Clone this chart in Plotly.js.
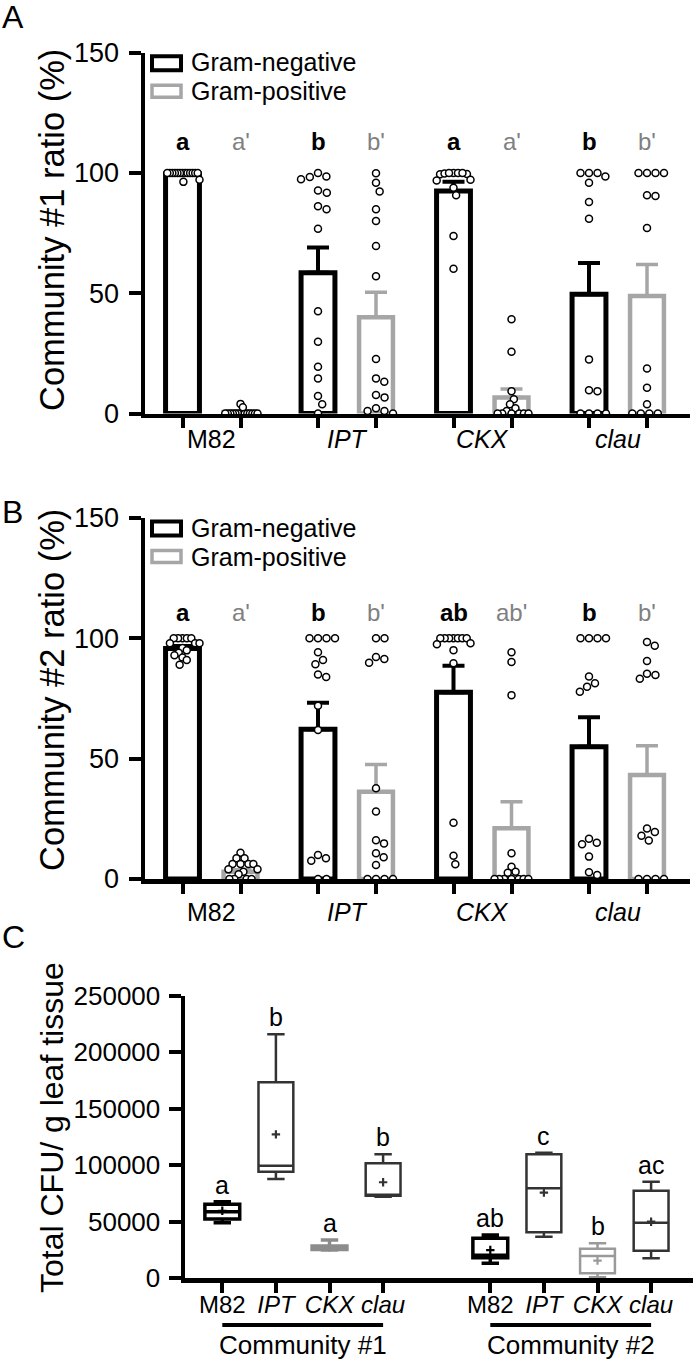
<!DOCTYPE html>
<html><head><meta charset="utf-8">
<script src="https://cdn.plot.ly/plotly-3.0.1.min.js"></script>
<style>html,body{margin:0;padding:0;background:#fff}</style>
</head><body><div id="chart" style="width:693px;height:1363px"></div>
<script>
// ---------------- DATA ----------------
const genotypes = ['M82', 'IPT', 'CKX', 'clau'];
const italicGenotype = [false, true, true, true];
const seriesNames = ['Gram-negative', 'Gram-positive'];

// Panel A: Community #1 ratio (%)
const c1NegMean = [99.6, 58.5, 92.5, 49.6];
const c1NegSem  = [0.3, 10.5, 3.8, 13.0];
const c1PosMean = [0.6, 40.0, 6.6, 48.8];
const c1PosSem  = [0.3, 10.4, 3.6, 13.1];
const c1NegPts = [
  [100,100,100,100,100,100,100,100,100,100,100,100,100,97.2,96.3],
  [100,98.5,97.4,98.3,91.8,92.7,84.9,86.2,76.8,42.5,29.8,19.4,14.6,7.3,3.8,0],
  [100,99.5,100,99.8,100,99.6,100,97.2,96.9,93.9,90.7,73.8,60.2],
  [100,98.5,100,100,95.9,87.9,81.0,22.5,9.3,9.7,0,0,0,0]
];
const c1PosPts = [
  [0,0,0,0,0,0,0,0,0,0,0,0,0,4.0,2.6],
  [99.9,95.9,92.3,84.9,80.0,69.6,57.1,22.7,13.2,14.6,6.7,7.7,2.2,1.0,1.0,0],
  [39.2,25.7,9.3,5.9,3.8,2.2,1.0,0,0,0,0,0,0],
  [100,100,100,100,90.4,90.7,77.1,18.7,10.7,3.8,0,0,0,0]
];
const c1NegLetters = ['a', 'b', 'a', 'b'];
const c1PosLetters = ["a'", "b'", "a'", "b'"];

// Panel B: Community #2 ratio (%)
const c2NegMean = [95.8, 62.2, 77.6, 55.0];
const c2NegSem  = [1.0, 11.0, 11.0, 12.2];
const c2PosMean = [3.0, 36.3, 21.1, 43.2];
const c2PosSem  = [0.8, 11.3, 11.0, 12.2];
const c2NegPts = [
  [100,100,100,100,100,98,98,98,96,95,94,93,92,91,89],
  [100,100,100,100,94.2,89.2,91.0,85.0,83.9,72.0,61.9,10.0,7.6,8.6,0,0],
  [100,100,100,100,100,100,100,98,97.5,95.1,89.6,23.4,9.7,6.1],
  [100,100,100,100,84.1,81.3,79.9,77.8,15.1,14.4,16.7,9.3,1.7,2.8]
];
const c2PosPts = [
  [10.9,8.6,8.6,6.2,6.2,6.2,6.2,4.0,4.0,3.0,2.0,0,0,0,0],
  [100,100,91.4,89.9,92.2,37.7,28.0,14.8,16.1,10.7,9.0,5.8,0,0,0,0],
  [94.2,90.2,76.4,10.7,5.1,3.0,2.6,0,0,0,0,0,0,0],
  [96.9,98.5,90.6,84.8,83.2,85.3,21.0,19.5,18.0,16.0,0,0,0,0]
];
const c2NegLetters = ['a', 'b', 'ab', 'b'];
const c2PosLetters = ["a'", "b'", "ab'", "b'"];

// Panel C: Total CFU / g leaf tissue (box plots)
const cfuGenotype  = ['M82','IPT','CKX','clau','M82','IPT','CKX','clau'];
const cfuCommunity = ['Community #1','Community #1','Community #1','Community #1','Community #2','Community #2','Community #2','Community #2'];
const cfuMin    = [49200, 87900, 25000, 72200, 13300, 36800, 900, 17700];
const cfuQ1     = [52500, 94300, 25500, 73100, 18200, 40700, 4400, 24400];
const cfuMedian = [58900, 99700, 27000, 73500, 20500, 79700, 19700, 49200];
const cfuQ3     = [65500, 173500, 28500, 101800, 35400, 109700, 26200, 77500];
const cfuMax    = [67800, 215900, 33900, 109700, 38300, 111200, 31000, 85500];
const cfuMean   = [59800, 127400, 27500, 85000, 25000, 75800, 15600, 50100];
const cfuLetters = ['a','b','a','b','ab','c','b','ac'];

// ---------------- STYLE / LAYOUT ----------------
const W = 693, H = 1363;
const FONT = 'Liberation Sans, Arial, Helvetica, sans-serif';
const BLACK = '#000000', GRAY = '#a6a6a6', LETTERGRAY = '#808080';
const boxColors = ['#000000','#333333','#8c8c8c','#333333','#000000','#333333','#9a9a9a','#333333'];
const boxWidths = [3.5, 2.5, 3.5, 2.5, 3.5, 2.5, 2.5, 2.5];
const px = p => p / W;
const py = p => 1 - p / H;

const PAIR_OFF = 0.214;         // offset of each bar from group centre (group units)
const GROUP_PX = 135.5;         // px per group unit in A/B
const A = {top: 52.7, bottom: 413.5, labelY: 439, letterVal: 113, legendTop: 52.7, titleY: 230};
const B = {top: 518, bottom: 879, labelY: 912, letterVal: 110.7, legendTop: 518, titleY: 690};
const C = {left: 185, right: 693, top: 995.8, bottom: 1278.3};
const C_POS = [0, 1, 2, 3, 5, 6, 7, 8];

function fmtGeno(g, i) { return italicGenotype[i] ? '<i>' + g + '</i>' : g; }

function swarm(vals, pxPerUnit, d, maxW) {
  const idx = vals.map((v, i) => i).sort((a, b) => vals[b] - vals[a]);
  const placed = []; const off = new Array(vals.length).fill(0);
  for (const i of idx) {
    const y = vals[i] * pxPerUnit;
    const near = placed.filter(p => Math.abs(p.y - y) < d);
    const cands = [0];
    near.forEach(p => { const dx = Math.sqrt(d * d - (p.y - y) ** 2); cands.push(p.x + dx, p.x - dx); });
    cands.sort((a, b) => Math.abs(a) - Math.abs(b));
    let x = 0;
    for (const c of cands) {
      if (near.every(p => (p.x - c) ** 2 + (p.y - y) ** 2 >= d * d - 0.01)) { x = c; break; }
    }
    placed.push({x, y}); off[i] = x;
  }
  const m = Math.max(...off.map(Math.abs));
  if (m > maxW) { const s = maxW / m; for (let k = 0; k < off.length; k++) off[k] *= s; }
  return off;
}

const traces = [];
const annotations = [];
const shapes = [];

function barPanel(ax, geom, negMean, negSem, posMean, posSem, negPts, posPts, negLet, posLet) {
  const xa = 'x' + (ax === 1 ? '' : ax), ya = 'y' + (ax === 1 ? '' : ax);
  const xNeg = genotypes.map((g, i) => i - PAIR_OFF);
  const xPos = genotypes.map((g, i) => i + PAIR_OFF);
  const pxPerUnit = (geom.bottom - geom.top) / 150;
  traces.push({type: 'bar', x: xNeg, y: negMean, width: 0.25, xaxis: xa, yaxis: ya,
    name: seriesNames[0], showlegend: false, hoverinfo: 'skip',
    marker: {color: '#ffffff', line: {color: BLACK, width: 5}},
    error_y: {type: 'data', symmetric: false, array: negSem, arrayminus: negSem.map(() => 0),
      color: BLACK, thickness: 4, width: 11}});
  traces.push({type: 'bar', x: xPos, y: posMean, width: 0.25, xaxis: xa, yaxis: ya,
    name: seriesNames[1], showlegend: false, hoverinfo: 'skip',
    marker: {color: '#ffffff', line: {color: GRAY, width: 4.5}},
    error_y: {type: 'data', symmetric: false, array: posSem, arrayminus: posSem.map(() => 0),
      color: GRAY, thickness: 3.5, width: 11}});
  const sx = [], sy = [];
  [negPts, posPts].forEach((set, s) => {
    set.forEach((vals, i) => {
      const off = swarm(vals, pxPerUnit, 9.5, 17);
      vals.forEach((v, k) => { sx.push(i + (s === 0 ? -PAIR_OFF : PAIR_OFF) + off[k] / GROUP_PX); sy.push(v); });
    });
  });
  traces.push({type: 'scatter', mode: 'markers', x: sx, y: sy, xaxis: xa, yaxis: ya,
    showlegend: false, hoverinfo: 'skip', cliponaxis: false,
    marker: {size: 7, color: '#ffffff', line: {color: BLACK, width: 1.5}}});
  genotypes.forEach((g, i) => {
    annotations.push({x: i, xref: xa, y: py(geom.labelY), yref: 'paper', text: fmtGeno(g, i),
      showarrow: false, font: {size: 25, color: BLACK}, xanchor: 'center', yanchor: 'middle'});
    annotations.push({x: i - PAIR_OFF, xref: xa, y: geom.letterVal, yref: ya, text: '<b>' + negLet[i] + '</b>',
      showarrow: false, font: {size: 24, color: BLACK}, xanchor: 'center', yanchor: 'middle'});
    annotations.push({x: i + PAIR_OFF, xref: xa, y: geom.letterVal, yref: ya, text: posLet[i],
      showarrow: false, font: {size: 24, color: LETTERGRAY}, xanchor: 'center', yanchor: 'middle'});
  });
  // legend
  const T = geom.legendTop;
  shapes.push({type: 'rect', xref: 'paper', yref: 'paper', x0: px(152), x1: px(181), y0: py(T + 3.5), y1: py(T + 17.5),
    line: {color: BLACK, width: 4}, fillcolor: '#ffffff'});
  shapes.push({type: 'rect', xref: 'paper', yref: 'paper', x0: px(152), x1: px(181), y0: py(T + 32.5), y1: py(T + 44.5),
    line: {color: GRAY, width: 3.5}, fillcolor: '#ffffff'});
  annotations.push({x: px(189), y: py(T + 9.8), xref: 'paper', yref: 'paper', text: seriesNames[0], showarrow: false,
    xanchor: 'left', yanchor: 'middle', font: {size: 25, color: BLACK}});
  annotations.push({x: px(189), y: py(T + 38.5), xref: 'paper', yref: 'paper', text: seriesNames[1], showarrow: false,
    xanchor: 'left', yanchor: 'middle', font: {size: 25, color: BLACK}});
}

barPanel(1, A, c1NegMean, c1NegSem, c1PosMean, c1PosSem, c1NegPts, c1PosPts, c1NegLetters, c1PosLetters);
barPanel(2, B, c2NegMean, c2NegSem, c2PosMean, c2PosSem, c2NegPts, c2PosPts, c2NegLetters, c2PosLetters);

// Panel C boxes
cfuGenotype.forEach((g, i) => {
  traces.push({type: 'box', x: [C_POS[i]], q1: [cfuQ1[i]], median: [cfuMedian[i]], q3: [cfuQ3[i]],
    lowerfence: [cfuMin[i]], upperfence: [cfuMax[i]], xaxis: 'x3', yaxis: 'y3',
    name: g + ' ' + cfuCommunity[i], showlegend: false, hoverinfo: 'skip', boxpoints: false,
    width: 0.65, whiskerwidth: 0.5, fillcolor: '#ffffff',
    line: {color: boxColors[i], width: boxWidths[i]}});
  annotations.push({x: C_POS[i], xref: 'x3', y: cfuMax[i], yref: 'y3', yshift: 17, text: cfuLetters[i],
    showarrow: false, font: {size: 25, color: BLACK}, xanchor: 'center', yanchor: 'middle'});
});
traces.push({type: 'scatter', mode: 'markers', x: C_POS, y: cfuMean, xaxis: 'x3', yaxis: 'y3',
  showlegend: false, hoverinfo: 'skip', cliponaxis: false,
  marker: {symbol: 'cross-thin', size: 6, color: boxColors, line: {color: boxColors, width: 2.2}}});

['Community #1', 'Community #2'].forEach((c, k) => {
  const xs = C_POS.filter((p, i) => cfuCommunity[i] === c);
  shapes.push({type: 'line', xref: 'x3', yref: 'paper', x0: Math.min(...xs), x1: Math.max(...xs),
    y0: py(1325), y1: py(1325), line: {color: BLACK, width: 4}});
  annotations.push({x: (Math.min(...xs) + Math.max(...xs)) / 2, xref: 'x3', y: py(1345), yref: 'paper',
    text: c, showarrow: false, font: {size: 26, color: BLACK}, xanchor: 'center', yanchor: 'middle'});
});

// panel letters & y titles
[['A', 17], ['B', 512], ['C', 937]].forEach(([t, y]) => annotations.push({x: px(0), y: py(y), xref: 'paper', yref: 'paper',
  text: t, showarrow: false, xanchor: 'left', yanchor: 'middle', font: {size: 32, color: BLACK}}));
[['Community #1 ratio (%)', A.titleY, 34.5], ['Community #2 ratio (%)', B.titleY, 34.5], ['Total CFU/ g leaf tissue', 1128, 32]].forEach(([t, y, s]) =>
  annotations.push({x: px(52), y: py(y), xref: 'paper', yref: 'paper', text: t, textangle: -90, showarrow: false,
    xanchor: 'center', yanchor: 'middle', font: {size: s, color: BLACK}}));

const barTickVals = [];
genotypes.forEach((g, i) => { barTickVals.push(i - PAIR_OFF, i + PAIR_OFF); });

function xBarAxis(geom, anchor) {
  return {domain: [px(145), px(690)], range: [(145 - 211.5) / GROUP_PX, (690 - 211.5) / GROUP_PX], anchor: anchor,
    showgrid: false, zeroline: false, showline: true, linecolor: BLACK, linewidth: 4.5,
    ticks: 'outside', ticklen: 10, tickwidth: 4, tickcolor: BLACK,
    tickvals: barTickVals, ticktext: barTickVals.map(() => ''), fixedrange: true};
}
function yBarAxis(geom, anchor) {
  return {domain: [py(geom.bottom), py(geom.top)], range: [0, 150], anchor: anchor,
    showgrid: false, zeroline: false, showline: true, linecolor: BLACK, linewidth: 4.5,
    ticks: 'outside', ticklen: 12, tickwidth: 4, tickcolor: BLACK, ticklabelstandoff: 4,
    tickvals: [0, 50, 100, 150], tickfont: {size: 27, color: BLACK}, fixedrange: true};
}

const layout = {
  width: W, height: H, margin: {l: 0, r: 0, t: 0, b: 0},
  paper_bgcolor: '#ffffff', plot_bgcolor: 'rgba(0,0,0,0)',
  font: {family: FONT, color: BLACK},
  showlegend: false, barmode: 'overlay', boxmode: 'overlay',
  xaxis: xBarAxis(A, 'y'), yaxis: yBarAxis(A, 'x'),
  xaxis2: xBarAxis(B, 'y2'), yaxis2: yBarAxis(B, 'x2'),
  xaxis3: {domain: [px(C.left), px(C.right)], range: [(C.left - 222.3) / 53.6, (C.right - 222.3) / 53.6], anchor: 'y3',
    showgrid: false, zeroline: false, showline: true, linecolor: BLACK, linewidth: 4.5,
    ticks: 'outside', ticklen: 10, tickwidth: 4, tickcolor: BLACK, ticklabelstandoff: -9,
    tickvals: C_POS, ticktext: cfuGenotype.map(g => fmtGeno(g, genotypes.indexOf(g))),
    tickfont: {size: 24, color: BLACK}, fixedrange: true},
  yaxis3: {domain: [py(C.bottom), py(C.top)], range: [0, 250000], anchor: 'x3',
    showgrid: false, zeroline: false, showline: true, linecolor: BLACK, linewidth: 4.5,
    ticks: 'outside', ticklen: 12, tickwidth: 4, tickcolor: BLACK, ticklabelstandoff: 3,
    tickvals: [0, 50000, 100000, 150000, 200000, 250000], tickformat: 'd',
    tickfont: {size: 26, color: BLACK}, fixedrange: true},
  annotations: annotations, shapes: shapes
};

Plotly.newPlot('chart', traces, layout, {displayModeBar: false, staticPlot: true});
</script></body></html>
